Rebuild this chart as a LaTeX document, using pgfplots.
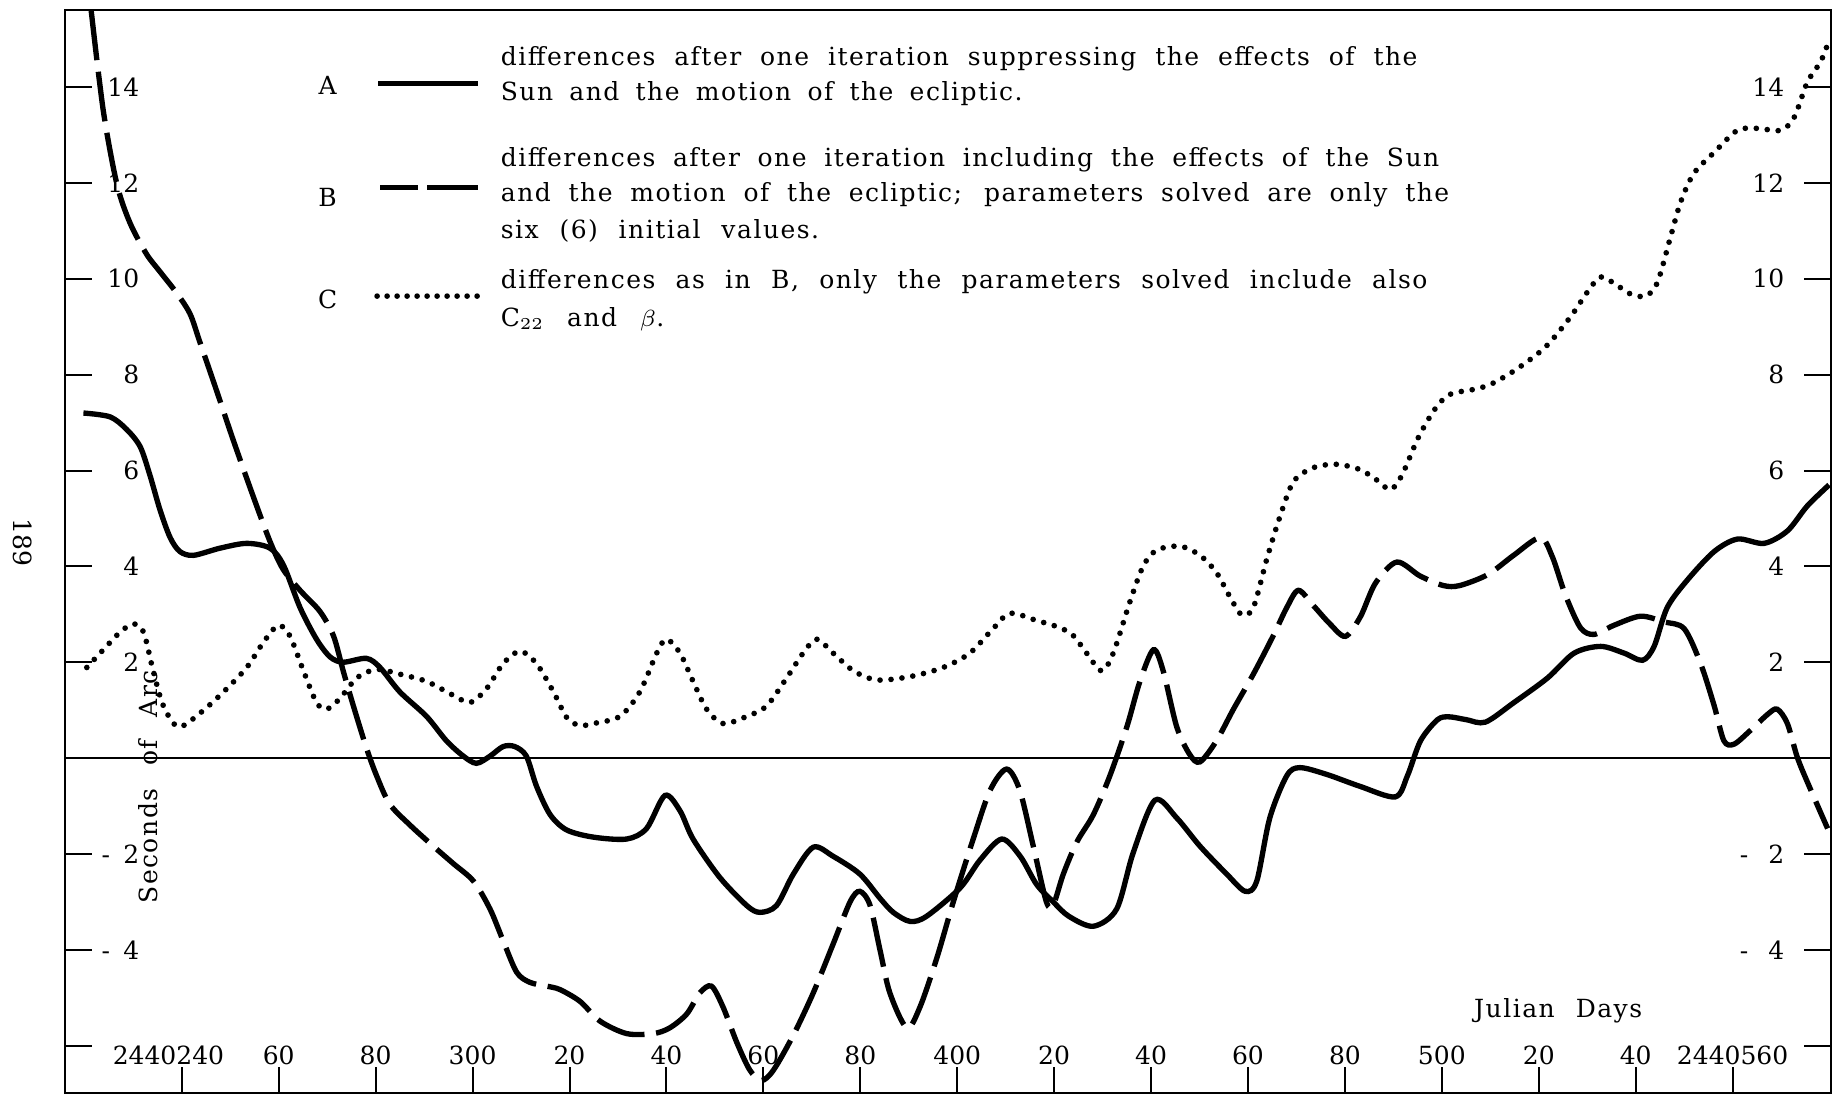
\documentclass[border=0pt]{standalone}
\usepackage{fontspec}
\setmainfont{DejaVu Serif}
\newfontfamily\lsfont{DejaVu Serif}[LetterSpace=6]
\usepackage{pgfplots}
\pgfplotsset{compat=1.18}
\usetikzlibrary{calc}

\begin{document}
\begin{tikzpicture}[font=\fontsize{7.5}{9}\selectfont]
\begin{axis}[name=ax, scale only axis, width=529.8pt, height=324.9pt,
  xmin=215.9, xmax=580.3, ymin=-7, ymax=15.6,
  clip=false, no markers,
  axis line style={line width=0.6pt},
  tick align=inside, major tick length=8pt,
  tick style={line width=0.6pt, black},
  tick pos=left,
  xtick={240,260,280,300,320,340,360,380,400,420,440,460,480,500,520,540,560},
  xticklabels={{2440240\rule{8pt}{0pt}},60,80,300,20,40,60,80,400,20,40,60,80,500,20,40,2440560},
  xticklabel style={anchor=base, yshift=8.6pt},
  ytick={-6,-4,-2,2,4,6,8,10,12,14},
  yticklabels={,{-\hspace{4pt}4},{-\hspace{4pt}2},2,4,6,8,10,12,14},
  yticklabel style={anchor=east, xshift=25.8pt},
]
% zero line
\addplot[line width=0.6pt] coordinates {(215.9,0) (580.3,0)};

% A: solid
\addplot[line width=1.6pt, smooth, tension=0.5] coordinates {
(219.7,7.2) (225.2,7.12) (228.6,6.86) (231.4,6.5) (233.4,5.91) (235.5,5.18)
(237.6,4.6) (239.6,4.31) (242.4,4.23) (247.9,4.38) (253.4,4.48) (258.2,4.38)
(261.0,4.02) (264.4,3.14) (267.8,2.48) (270.6,2.11) (273.3,2.0) (278.1,2.08)
(280.9,1.89) (285.0,1.38) (290.5,0.87) (294.6,0.36) (298.1,0.04) (300.8,-0.11)
(303.6,0.04) (306.3,0.24) (308.7,0.24) (311.1,0.04) (313.2,-0.59) (316.0,-1.18)
(319.4,-1.5) (324.9,-1.65) (331.8,-1.69) (335.9,-1.47) (339.7,-0.78) (342.8,-1.10)
(345.5,-1.69) (351.0,-2.49) (356.6,-3.08) (359.3,-3.22) (362.7,-3.08) (366.2,-2.42)
(370.3,-1.86) (374.4,-2.05) (379.9,-2.42) (384.1,-2.93) (386.8,-3.22) (390.3,-3.41)
(393.7,-3.30) (400.6,-2.71) (404.7,-2.13) (409.2,-1.69) (413.0,-2.05) (416.4,-2.64)
(419.8,-3.00) (423.0,-3.3) (428.1,-3.51) (432.9,-3.15) (436.3,-1.98) (440.8,-0.88)
(445.3,-1.25) (450.1,-1.84) (455.6,-2.42) (459.4,-2.78) (461.8,-2.57) (464.5,-1.25)
(468.0,-0.37) (470.7,-0.2) (476.2,-0.34) (483.1,-0.59) (490.4,-0.81) (492.9,-0.37)
(495.6,0.36) (499.1,0.8) (501.5,0.86) (505.1,0.8) (509.0,0.75) (514.9,1.16)
(521.8,1.67) (527.3,2.19) (532.8,2.33) (537.6,2.19) (541.4,2.04) (543.8,2.33)
(546.5,3.14) (550.7,3.72) (556.2,4.31) (561.0,4.57) (566.5,4.48) (571.3,4.74)
(575.4,5.26) (579.9,5.70)
};

% B: dashed
\addplot[line width=1.6pt, smooth, tension=0.5, dash pattern=on 15pt off 3.5pt] coordinates {
(221.3,15.6) (223.8,13.51) (226.6,11.98) (229.3,11.17) (232.7,10.52) (235.5,10.15)
(238.9,9.71) (241.7,9.27) (243.7,8.69) (247.2,7.66) (250.6,6.64) (254.7,5.47)
(258.2,4.52) (260.9,3.94) (264.4,3.5) (268.5,3.06) (271.3,2.55) (273.3,1.82)
(275.4,1.09) (278.1,0.21) (280.2,-0.37) (282.9,-0.96) (287.1,-1.4) (291.9,-1.84)
(296.0,-2.2) (300.2,-2.57) (303.6,-3.15) (306.3,-3.81) (309.1,-4.47) (311.8,-4.68)
(315.3,-4.76) (318.0,-4.83) (322.2,-5.08) (326.3,-5.49) (331.8,-5.75) (337.3,-5.75)
(340.7,-5.63) (344.2,-5.34) (346.9,-4.9) (349.3,-4.76) (351.7,-5.2) (354.5,-5.93)
(357.2,-6.51) (359.6,-6.73) (362.1,-6.51) (366.2,-5.78) (370.3,-4.9) (374.4,-3.88)
(377.9,-3.0) (379.9,-2.78) (382.0,-3.07) (384.1,-4.02) (386.1,-4.9) (389.6,-5.63)
(392.3,-5.2) (395.8,-4.17) (399.2,-3.0) (403.3,-1.69) (406.8,-0.67) (410.2,-0.23)
(412.9,-0.67) (415.7,-1.84) (418.4,-3.0) (419.8,-3.07) (421.9,-2.42) (424.7,-1.75)
(428.1,-1.18) (431.5,-0.37) (435.0,0.65) (437.7,1.6) (440.5,2.26) (442.5,1.82)
(445.3,0.65) (448.0,0.07) (450.1,-0.08) (453.5,0.36) (457.0,1.02) (461.1,1.75)
(465.2,2.55) (468.0,3.14) (470.4,3.5) (473.5,3.18) (476.9,2.8) (480.1,2.54)
(483.2,2.95) (486.3,3.65) (490.7,4.09) (495.5,3.8) (500.3,3.6) (503.7,3.6)
(509.5,3.83) (514.8,4.23) (520.3,4.6) (522.8,4.2) (525.5,3.4) (528.6,2.72)
(531.4,2.58) (535.5,2.77) (541.0,2.96) (545.9,2.84) (550.0,2.7) (553.4,1.97)
(556.2,1.09) (558.2,0.36) (560.3,0.29) (563.7,0.58) (567.2,0.91) (569.2,1.02)
(571.3,0.72) (573.4,0.0) (576.1,-0.66) (579.6,-1.47)
};

% C: dotted
\addplot[line width=1.7pt, smooth, tension=0.5, line cap=round, dash pattern=on 0pt off 3.3pt] coordinates {
(220.4,1.89) (223.8,2.26) (227.3,2.63) (230.0,2.8) (232.1,2.63) (234.1,1.82)
(236.2,1.09) (239.3,0.65) (243.8,0.94) (248.6,1.38) (253.4,1.89) (256.8,2.41)
(259.9,2.77) (262.3,2.55) (265.1,1.82) (267.8,1.16) (269.9,1.02) (272.6,1.24)
(276.1,1.67) (280.2,1.85) (285.0,1.75) (290.5,1.6) (296.0,1.31) (299.5,1.16)
(302.9,1.45) (306.3,1.97) (309.8,2.23) (313.2,1.97) (316.7,1.38) (319.4,0.85)
(322.0,0.68) (324.9,0.72) (330.4,0.87) (334.5,1.38) (338.0,2.19) (340.0,2.48)
(342.8,2.19) (345.5,1.6) (348.3,1.02) (351.7,0.72) (356.6,0.87) (360.7,1.09)
(364.8,1.67) (368.2,2.19) (371.0,2.48) (374.4,2.19) (378.6,1.82) (383.4,1.63)
(390.3,1.7) (397.1,1.89) (402.6,2.19) (407.4,2.7) (410.9,3.02) (416.4,2.87)
(421.2,2.72) (424.0,2.55) (426.7,2.19) (429.8,1.82) (432.2,2.19) (435.7,3.28)
(438.4,4.01) (441.2,4.34) (446.0,4.42) (450.1,4.23) (453.5,3.87) (456.3,3.36)
(458.7,2.99) (461.1,3.14) (463.9,4.16) (466.6,5.04) (469.4,5.77) (473.5,6.06)
(478.3,6.13) (483.1,6.02) (486.6,5.8) (489.4,5.6) (491.8,5.91) (495.2,6.7)
(498.7,7.3) (501.7,7.59) (506.9,7.7) (510.3,7.81) (515.5,8.12) (521.4,8.58)
(526.5,9.2) (530.0,9.72) (532.8,10.04) (536.2,9.86) (539.0,9.68) (542.1,9.64)
(544.5,9.93) (547.2,10.88) (549.3,11.61) (552.0,12.2) (556.2,12.64) (561.0,13.1)
(565.1,13.14) (569.9,13.1) (572.7,13.37) (575.4,14.1) (578.2,14.54) (579.9,14.98)
};

% legend keys
\draw[line width=1.6pt] (axis cs:280.5,14.07) -- (axis cs:301.1,14.07);
\draw[line width=1.6pt] (axis cs:280.9,11.9) -- (axis cs:288.7,11.9);
\draw[line width=1.6pt] (axis cs:290.6,11.9) -- (axis cs:301.1,11.9);
\draw[line width=1.7pt, line cap=round, dash pattern=on 0pt off 3pt] (axis cs:280.3,9.64) -- (axis cs:301.0,9.64);
\node at (axis cs:270.1,14.03) {\lsfont A};
\node at (axis cs:270.1,11.69) {\lsfont B};
\node at (axis cs:270.1,9.57) {\lsfont C};

\node[anchor=base west, inner sep=0] at (axis cs:305.7,14.46) {\lsfont\makebox[275pt][s]{differences after one iteration suppressing the effects of the}};
\node[anchor=base west, inner sep=0] at (axis cs:305.7,13.73) {\lsfont\makebox[156.5pt][s]{Sun and the motion of the ecliptic.}};
\node[anchor=base west, inner sep=0] at (axis cs:305.7,12.34) {\lsfont\makebox[281.5pt][s]{differences after one iteration including the effects of the Sun}};
\node[anchor=base west, inner sep=0] at (axis cs:305.7,11.61) {\lsfont\makebox[284.5pt][s]{and the motion of the ecliptic; parameters solved are only the}};
\node[anchor=base west, inner sep=0] at (axis cs:305.7,10.85) {\lsfont\makebox[95.5pt][s]{six (6) initial values.}};
\node[anchor=base west, inner sep=0] at (axis cs:305.7,9.79) {\lsfont\makebox[278pt][s]{differences as in B, only the parameters solved include also}};
\node[anchor=base west, inner sep=0] at (axis cs:305.7,9.01) {\lsfont\makebox[49pt][s]{C$_{22}$ and $\beta$.}};

\node[rotate=90] at (axis cs:233.1,-0.6) {\lsfont\makebox[70pt][s]{Seconds of Arc}};
\node at (axis cs:524.0,-5.28) {\lsfont\makebox[50.4pt][s]{Julian Days}};
\node[rotate=-90] at (axis cs:207.2,4.5) {189};
\end{axis}

\begin{axis}[scale only axis, width=529.8pt, height=324.9pt,
  xmin=215.9, xmax=580.3, ymin=-7, ymax=15.6,
  hide x axis, axis y line*=right, axis line style={draw=none},
  tick align=inside, major tick length=8pt,
  tick style={line width=0.6pt, black},
  ytick={-6,-4,-2,2,4,6,8,10,12,14},
  yticklabels={,{-\hspace{6pt}4},{-\hspace{6pt}2},2,4,6,8,10,12,14},
  yticklabel style={anchor=east, xshift=-10.5pt},
]
\addplot[draw=none] coordinates {(300,0) (400,1)};
\end{axis}

\pgfresetboundingbox
\path[use as bounding box] ($(ax.south west)+(-19.5pt,-1.1pt)$) rectangle ($(ax.north east)+(0.9pt,3.15pt)$);
\end{tikzpicture}
\end{document}
